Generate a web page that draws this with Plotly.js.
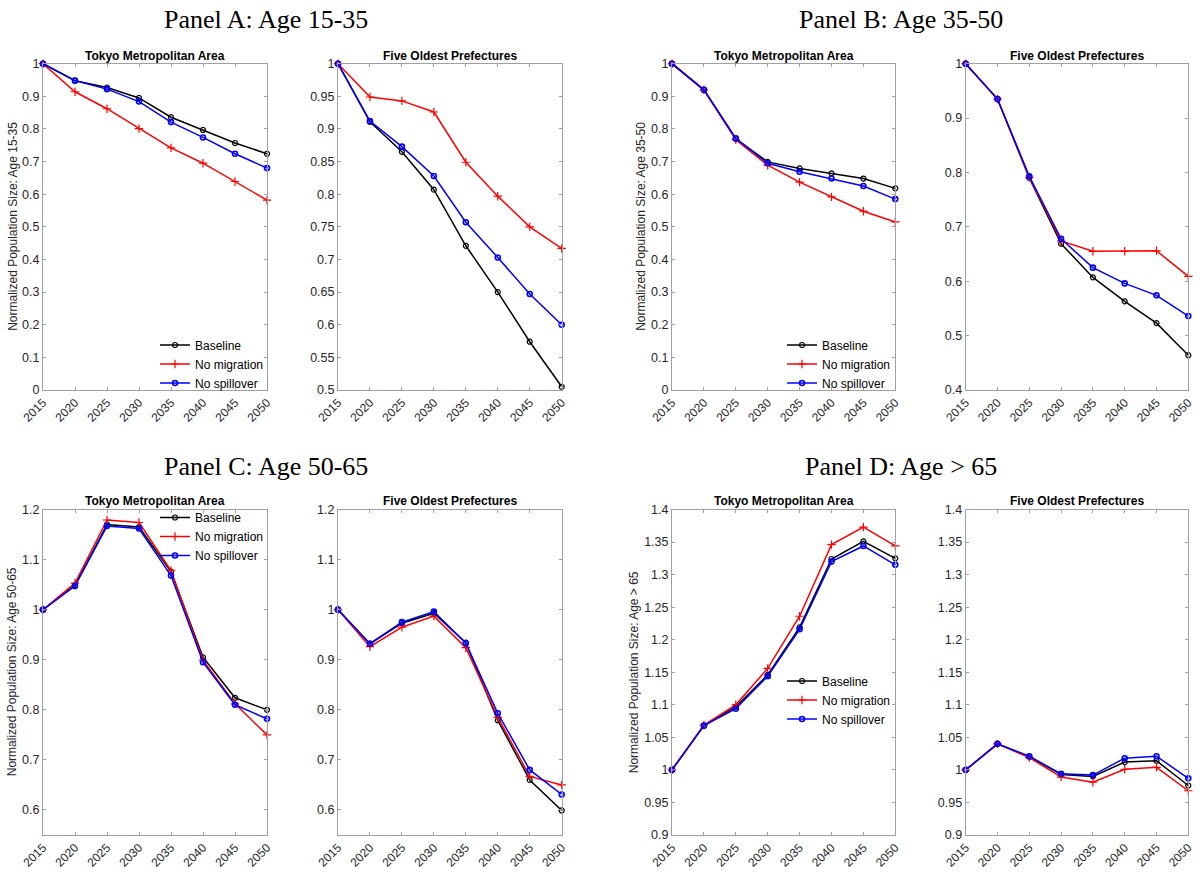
<!DOCTYPE html>
<html>
<head>
<meta charset="utf-8">
<script src="https://cdn.plot.ly/plotly-3.0.1.min.js"></script>
<style>html,body{margin:0;padding:0;background:#fff;}#chart{width:1204px;height:873px;}</style>
</head>
<body>
<div id="chart"></div>
<script>
// ---------- data ----------
var years = [2015, 2020, 2025, 2030, 2035, 2040, 2045, 2050];
var seriesNames = ["Baseline", "No migration", "No spillover"];

// Panel A: Age 15-35
var a_tokyo_baseline  = [1, 0.948, 0.927, 0.895, 0.836, 0.797, 0.757, 0.724];
var a_tokyo_nomig     = [1, 0.914, 0.862, 0.801, 0.742, 0.695, 0.639, 0.582];
var a_tokyo_nospill   = [1, 0.948, 0.922, 0.884, 0.821, 0.774, 0.724, 0.680];
var a_five_baseline   = [1, 0.911, 0.865, 0.807, 0.721, 0.650, 0.574, 0.505];
var a_five_nomig      = [1, 0.949, 0.943, 0.926, 0.849, 0.797, 0.750, 0.717];
var a_five_nospill    = [1, 0.912, 0.873, 0.828, 0.757, 0.703, 0.647, 0.600];

// Panel B: Age 35-50
var b_tokyo_baseline  = [1, 0.920, 0.770, 0.699, 0.679, 0.664, 0.648, 0.618];
var b_tokyo_nomig     = [1, 0.920, 0.767, 0.689, 0.637, 0.592, 0.548, 0.515];
var b_tokyo_nospill   = [1, 0.920, 0.771, 0.695, 0.669, 0.648, 0.625, 0.585];
var b_five_baseline   = [1, 0.935, 0.790, 0.669, 0.607, 0.563, 0.523, 0.464];
var b_five_nomig      = [1, 0.935, 0.791, 0.674, 0.655, 0.655, 0.656, 0.609];
var b_five_nospill    = [1, 0.935, 0.793, 0.678, 0.625, 0.596, 0.574, 0.536];

// Panel C: Age 50-65
var c_tokyo_baseline  = [1, 1.049, 1.170, 1.165, 1.076, 0.905, 0.824, 0.800];
var c_tokyo_nomig     = [1, 1.053, 1.179, 1.174, 1.078, 0.899, 0.812, 0.750];
var c_tokyo_nospill   = [1, 1.047, 1.167, 1.162, 1.068, 0.895, 0.810, 0.782];
var c_five_baseline   = [1, 0.932, 0.973, 0.993, 0.934, 0.779, 0.660, 0.599];
var c_five_nomig      = [1, 0.926, 0.965, 0.987, 0.924, 0.785, 0.667, 0.650];
var c_five_nospill    = [1, 0.932, 0.975, 0.996, 0.933, 0.793, 0.680, 0.631];

// Panel D: Age > 65
var d_tokyo_baseline  = [1, 1.068, 1.097, 1.146, 1.219, 1.324, 1.351, 1.325];
var d_tokyo_nomig     = [1, 1.069, 1.100, 1.156, 1.236, 1.346, 1.373, 1.344];
var d_tokyo_nospill   = [1, 1.068, 1.094, 1.144, 1.216, 1.320, 1.344, 1.315];
var d_five_baseline   = [1, 1.040, 1.020, 0.993, 0.990, 1.012, 1.014, 0.976];
var d_five_nomig      = [1, 1.040, 1.019, 0.989, 0.981, 1.001, 1.004, 0.968];
var d_five_nospill    = [1, 1.040, 1.021, 0.994, 0.992, 1.018, 1.021, 0.987];

// tick labels
var xTickLabels = ["2015", "2020", "2025", "2030", "2035", "2040", "2045", "2050"];
var yTicks_0_1   = [0, 0.1, 0.2, 0.3, 0.4, 0.5, 0.6, 0.7, 0.8, 0.9, 1];
var yLabels_0_1  = ["0", "0.1", "0.2", "0.3", "0.4", "0.5", "0.6", "0.7", "0.8", "0.9", "1"];
var yTicks_A2    = [0.5, 0.55, 0.6, 0.65, 0.7, 0.75, 0.8, 0.85, 0.9, 0.95, 1];
var yLabels_A2   = ["0.5", "0.55", "0.6", "0.65", "0.7", "0.75", "0.8", "0.85", "0.9", "0.95", "1"];
var yTicks_B2    = [0.4, 0.5, 0.6, 0.7, 0.8, 0.9, 1];
var yLabels_B2   = ["0.4", "0.5", "0.6", "0.7", "0.8", "0.9", "1"];
var yTicks_C     = [0.6, 0.7, 0.8, 0.9, 1, 1.1, 1.2];
var yLabels_C    = ["0.6", "0.7", "0.8", "0.9", "1", "1.1", "1.2"];
var yTicks_D     = [0.9, 0.95, 1, 1.05, 1.1, 1.15, 1.2, 1.25, 1.3, 1.35, 1.4];
var yLabels_D    = ["0.9", "0.95", "1", "1.05", "1.1", "1.15", "1.2", "1.25", "1.3", "1.35", "1.4"];

var panelTitles = ["Panel A: Age 15-35", "Panel B: Age 35-50", "Panel C: Age 50-65", "Panel D: Age > 65"];
var subTitles = ["Tokyo Metropolitan Area", "Five Oldest Prefectures"];
var yAxisTitles = ["Normalized Population Size: Age 15-35", "Normalized Population Size: Age 35-50",
                   "Normalized Population Size: Age 50-65", "Normalized Population Size: Age > 65"];

// ---------- styling ----------
var colors = ["#000000", "#ff0000", "#0000ff"];
var markers = [
  {symbol: "circle-open", size: 5, line: {width: 1.2}},
  {symbol: "cross-thin-open", size: 6, line: {width: 1.2}},
  {symbol: "circle-open", size: 5, line: {width: 1.6}}
];

var W = 1204, H = 873;
function px2fx(p) { return p / W; }
function px2fy(p) { return 1 - p / H; }

var xDomains = [[43, 267], [338, 561.7], [672, 895.3], [965.7, 1188.3]];
var yDomains = [[390, 63.7], [835, 509.5]];
var yTitleOffsets = [21, 22, 22, 29];

var panels = [
  {sets: [[a_tokyo_baseline, a_tokyo_nomig, a_tokyo_nospill], [a_five_baseline, a_five_nomig, a_five_nospill]],
   ranges: [[0, 1], [0.5, 1]], ticks: [[yTicks_0_1, yLabels_0_1], [yTicks_A2, yLabels_A2]], row: 0, col: 0},
  {sets: [[b_tokyo_baseline, b_tokyo_nomig, b_tokyo_nospill], [b_five_baseline, b_five_nomig, b_five_nospill]],
   ranges: [[0, 1], [0.4, 1]], ticks: [[yTicks_0_1, yLabels_0_1], [yTicks_B2, yLabels_B2]], row: 0, col: 1},
  {sets: [[c_tokyo_baseline, c_tokyo_nomig, c_tokyo_nospill], [c_five_baseline, c_five_nomig, c_five_nospill]],
   ranges: [[0.55, 1.2], [0.55, 1.2]], ticks: [[yTicks_C, yLabels_C], [yTicks_C, yLabels_C]], row: 1, col: 0},
  {sets: [[d_tokyo_baseline, d_tokyo_nomig, d_tokyo_nospill], [d_five_baseline, d_five_nomig, d_five_nospill]],
   ranges: [[0.9, 1.4], [0.9, 1.4]], ticks: [[yTicks_D, yLabels_D], [yTicks_D, yLabels_D]], row: 1, col: 1}
];

var legendNames = ["legend", "legend2", "legend3", "legend4"];
var legendPos = [[155, 364], [782, 364], [155, 536.5], [782, 700]];

var traces = [];
var layout = {
  width: W, height: H,
  margin: {l: 0, r: 0, t: 0, b: 0},
  paper_bgcolor: "#ffffff", plot_bgcolor: "#ffffff",
  font: {family: "Liberation Sans, Arial, sans-serif", size: 12, color: "#262626"},
  annotations: [],
  hovermode: false
};

var axisIndex = 0;
panels.forEach(function (p, pi) {
  for (var s = 0; s < 2; s++) {
    axisIndex++;
    var xa = "x" + (axisIndex === 1 ? "" : axisIndex);
    var ya = "y" + (axisIndex === 1 ? "" : axisIndex);
    var xKey = "xaxis" + (axisIndex === 1 ? "" : axisIndex);
    var yKey = "yaxis" + (axisIndex === 1 ? "" : axisIndex);
    var xd = xDomains[p.col * 2 + s];
    var yd = yDomains[p.row];
    layout[xKey] = {
      domain: [px2fx(xd[0]), px2fx(xd[1])], anchor: ya,
      range: [2015, 2050], tickvals: years, ticktext: xTickLabels, tickangle: -45,
      showgrid: false, zeroline: false, showline: true, linecolor: "#a0a0a0", linewidth: 1,
      mirror: "ticks", ticks: "inside", ticklen: 3, tickcolor: "#a0a0a0",
      tickfont: {size: 12, color: "#262626"}
    };
    layout[yKey] = {
      domain: [px2fy(yd[0]), px2fy(yd[1])], anchor: xa,
      range: p.ranges[s], tickvals: p.ticks[s][0], ticktext: p.ticks[s][1],
      showgrid: false, zeroline: false, showline: true, linecolor: "#a0a0a0", linewidth: 1,
      mirror: "ticks", ticks: "inside", ticklen: 3, tickcolor: "#a0a0a0",
      tickfont: {size: 12.5, color: "#262626"}
    };
    for (var k = 0; k < 3; k++) {
      traces.push({
        type: "scatter", mode: "lines+markers",
        x: years, y: p.sets[s][k], xaxis: xa, yaxis: ya,
        name: seriesNames[k],
        line: {color: colors[k], width: 1.5},
        marker: {symbol: markers[k].symbol, size: markers[k].size, color: colors[k],
                 line: {color: colors[k], width: markers[k].line.width}},
        showlegend: s === 0,
        legend: legendNames[pi],
        cliponaxis: false
      });
    }
    // subplot title
    layout.annotations.push({
      text: "<b>" + subTitles[s] + "</b>", xref: "paper", yref: "paper",
      x: px2fx((xd[0] + xd[1]) / 2), y: px2fy(yd[1] - 8), xanchor: "center", yanchor: "middle",
      showarrow: false, font: {family: "Liberation Sans, Arial, sans-serif", size: 12, color: "#000"}
    });
  }
  // y axis title
  var xl = xDomains[p.col * 2][0];
  var ydd = yDomains[p.row];
  layout.annotations.push({
    text: yAxisTitles[pi], xref: "paper", yref: "paper", textangle: -90,
    x: px2fx(xl - yTitleOffsets[pi]), y: px2fy((ydd[0] + ydd[1]) / 2), xanchor: "right", yanchor: "middle",
    showarrow: false, font: {family: "Liberation Sans, Arial, sans-serif", size: 12, color: "#262626"}
  });
  // panel title
  var centers = [266, 901];
  var tops = [19, 466];
  layout.annotations.push({
    text: panelTitles[pi], xref: "paper", yref: "paper",
    x: px2fx(centers[p.col]), y: px2fy(tops[p.row]), xanchor: "center", yanchor: "middle",
    showarrow: false, font: {family: "Liberation Serif, DejaVu Serif, serif", size: 26, color: "#000"}
  });
  // legend
  layout[legendNames[pi]] = {
    x: px2fx(legendPos[pi][0]), y: px2fy(legendPos[pi][1]), xanchor: "left", yanchor: "middle",
    xref: "paper", yref: "paper", bgcolor: "rgba(0,0,0,0)", borderwidth: 0,
    itemwidth: 30, font: {family: "Liberation Sans, Arial, sans-serif", size: 12, color: "#000"},
    traceorder: "normal", tracegroupgap: 0
  };
});

Plotly.newPlot("chart", traces, layout, {staticPlot: true, displayModeBar: false});
</script>
</body>
</html>
